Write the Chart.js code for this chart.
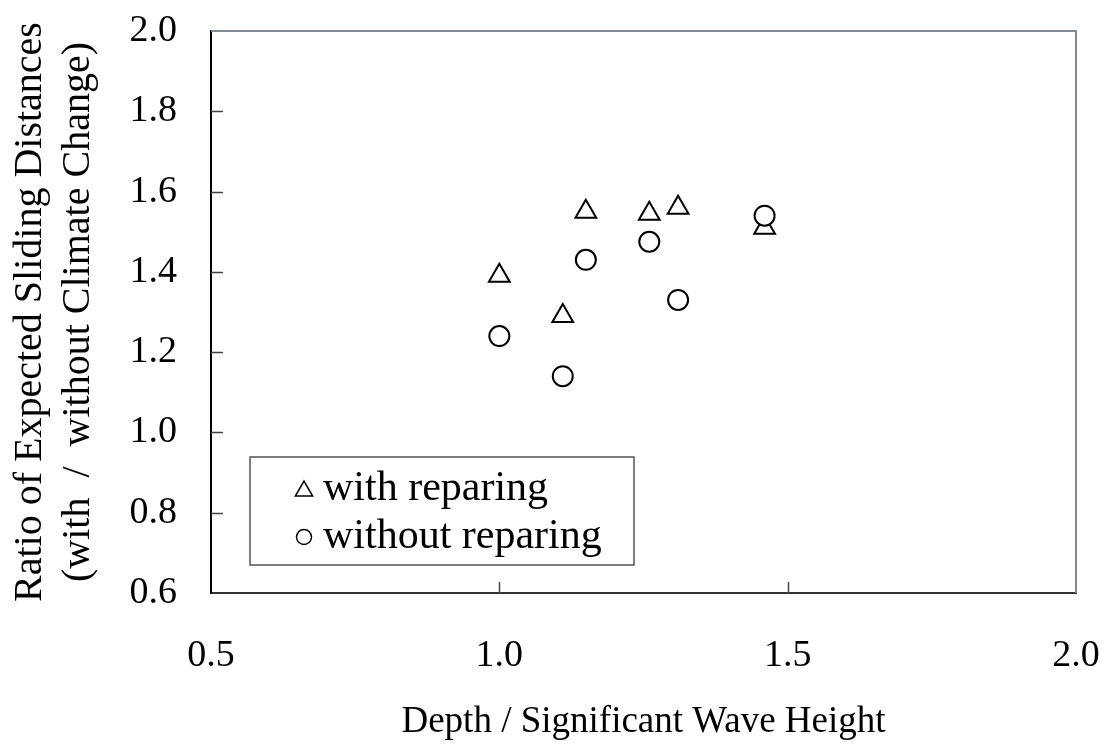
<!DOCTYPE html>
<html lang="en">
<head>
  <meta charset="UTF-8" />
  <title>Ratio of Expected Sliding Distances</title>
  <script src="https://cdn.jsdelivr.net/npm/chart.js@4.4.1/dist/chart.umd.min.js"></script>
  <style>
    body {
      margin: 0;
      background: #fff;
    }
    #chart-container {
      position: relative;
      width: 1107px;
      height: 745px;
    }
  </style>
</head>
<body>

  <div id="chart-container">
    <canvas id="slidingChart"></canvas>
  </div>

  <script>
    // x = depth / significant wave height
    const withRepairX    = [1.00, 1.11, 1.15, 1.26, 1.31, 1.46];
    const withRepairY    = [1.39, 1.29, 1.55, 1.545, 1.56, 1.51];
    const withoutRepairX = [1.00, 1.11, 1.15, 1.26, 1.31, 1.46];
    const withoutRepairY = [1.24, 1.14, 1.43, 1.475, 1.33, 1.54];

    const xTicks = [0.5, 1.0, 1.5, 2.0];
    const yTicks = [0.6, 0.8, 1.0, 1.2, 1.4, 1.6, 1.8, 2.0];

    const serif = "'Liberation Serif', 'Times New Roman', serif";

    const toPoints = (xs, ys) => xs.map((x, i) => ({ x: x, y: ys[i] }));

    // inward tick marks + grey frame on top / right
    const framePlugin = {
      id: 'frame',
      afterDatasetsDraw(chart) {
        const { ctx, chartArea: a, scales } = chart;
        ctx.save();
        ctx.strokeStyle = '#7f8a90';
        ctx.lineWidth = 2;
        ctx.beginPath();
        ctx.moveTo(a.left, a.top);
        ctx.lineTo(a.right, a.top);
        ctx.lineTo(a.right, a.bottom);
        ctx.stroke();

        ctx.strokeStyle = '#444';
        ctx.lineWidth = 1.5;
        ctx.beginPath();
        yTicks.slice(1, -1).forEach(v => {
          const y = Math.round(scales.y.getPixelForValue(v)) + 0.5;
          ctx.moveTo(a.left, y);
          ctx.lineTo(a.left + 12, y);
        });
        xTicks.slice(1, -1).forEach(v => {
          const x = Math.round(scales.x.getPixelForValue(v)) + 0.5;
          ctx.moveTo(x, a.bottom);
          ctx.lineTo(x, a.bottom - 11);
        });
        ctx.stroke();
        ctx.restore();
      }
    };

    // boxed legend inside the plot, lower left
    const boxLegend = {
      id: 'boxLegend',
      afterDraw(chart) {
        const { ctx } = chart;
        ctx.save();
        ctx.fillStyle = '#fff';
        ctx.fillRect(250, 457, 384, 108);
        ctx.strokeStyle = '#555';
        ctx.lineWidth = 1.5;
        ctx.strokeRect(250, 457, 384, 108);

        ctx.font = '42px ' + serif;
        ctx.textBaseline = 'middle';
        ctx.textAlign = 'left';
        chart.data.datasets.forEach((ds, i) => {
          const y = 489 + i * 48;
          ctx.strokeStyle = '#000';
          ctx.lineWidth = 1.5;
          ctx.fillStyle = '#fff';
          Chart.helpers.drawPoint(ctx, {
            pointStyle: ds.pointStyle,
            radius: ds.pointStyle === 'triangle' ? 10 : 7.5,
            rotation: 0,
            borderWidth: 1.5
          }, 304, ds.pointStyle === 'triangle' ? y + 2 : y);
          ctx.fillStyle = '#000';
          ctx.fillText(ds.label, 323, y);
        });
        ctx.restore();
      }
    };

    const ctx = document.getElementById('slidingChart').getContext('2d');
    new Chart(ctx, {
      type: 'scatter',
      data: {
        datasets: [{
          label: 'with reparing',
          data: toPoints(withRepairX, withRepairY),
          pointStyle: 'triangle',
          pointRadius: 12,
          pointHoverRadius: 12,
          pointBorderWidth: 2,
          borderColor: '#000',
          backgroundColor: '#fff',
          order: 2
        }, {
          label: 'without reparing',
          data: toPoints(withoutRepairX, withoutRepairY),
          pointStyle: 'circle',
          pointRadius: 10,
          pointHoverRadius: 10,
          pointBorderWidth: 2,
          borderColor: '#000',
          backgroundColor: '#fff',
          order: 1
        }]
      },
      options: {
        responsive: true,
        maintainAspectRatio: false,
        animation: false,
        layout: { padding: { top: 31, right: 31, left: 0, bottom: 0 } },
        plugins: {
          legend: { display: false },
          tooltip: { enabled: false }
        },
        scales: {
          x: {
            type: 'linear',
            min: 0.5,
            max: 2.0,
            afterFit: s => {
              s.height = 152;
              s.paddingLeft = 0;
              s.paddingRight = 0;
            },
            afterBuildTicks: s => { s.ticks = xTicks.map(v => ({ value: v })); },
            grid: { display: true, drawOnChartArea: false, drawTicks: false },
            border: { display: true, color: '#333', width: 2 },
            ticks: {
              color: '#000',
              padding: 40,
              font: { family: serif, size: 38 },
              callback: v => v.toFixed(1)
            },
            title: {
              display: true,
              text: 'Depth / Significant Wave Height',
              color: '#000',
              font: { family: serif, size: 37, lineHeight: 1.2 },
              padding: { top: 0, bottom: 1 }
            }
          },
          y: {
            type: 'linear',
            min: 0.6,
            max: 2.0,
            afterFit: s => {
              s.width = 211;
              s.paddingTop = 0;
              s.paddingBottom = 0;
            },
            afterBuildTicks: s => { s.ticks = yTicks.map(v => ({ value: v })); },
            grid: { display: true, drawOnChartArea: false, drawTicks: false },
            border: { display: true, color: '#000', width: 2 },
            ticks: {
              color: '#000',
              padding: 34,
              font: { family: serif, size: 38 },
              callback: v => v.toFixed(1)
            },
            title: {
              display: true,
              text: ['Ratio of Expected Sliding Distances', '(with  /  without Climate Change)'],
              color: '#000',
              font: { family: serif, size: 40, lineHeight: 1.2 },
              padding: { top: 6, bottom: 0 }
            }
          }
        }
      },
      plugins: [framePlugin, boxLegend]
    });
  </script>

</body>
</html>
